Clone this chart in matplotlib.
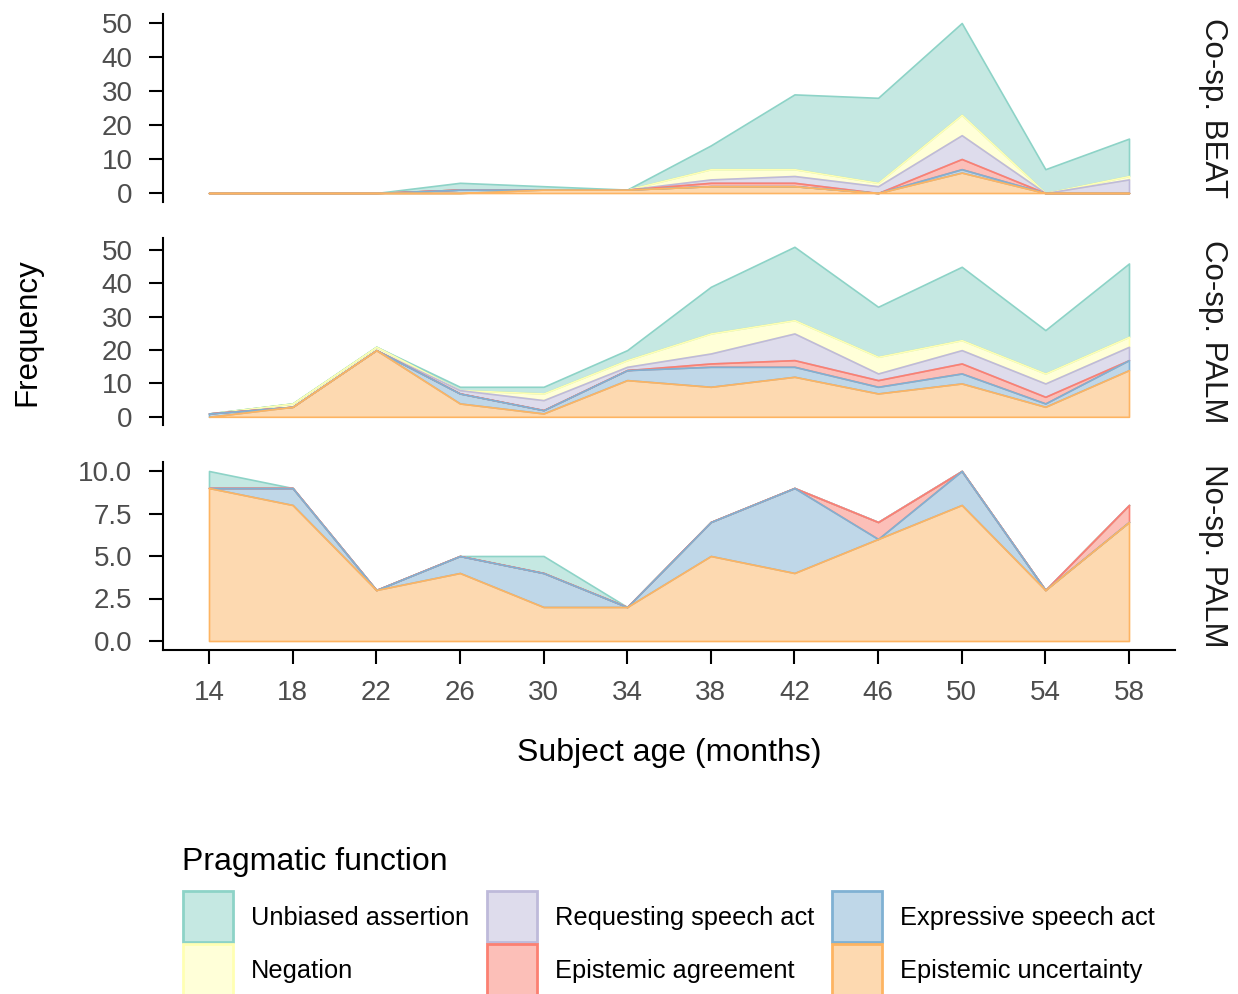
import matplotlib
matplotlib.use("Agg")
import matplotlib.pyplot as plt
from matplotlib.patches import Rectangle
from matplotlib.colors import to_rgba
import numpy as np

plt.rcParams['font.family'] = ['Liberation Sans', 'DejaVu Sans']

# ---------------- data ----------------
ages = [14, 18, 22, 26, 30, 34, 38, 42, 46, 50, 54, 58]

functions = ["Unbiased assertion", "Negation", "Requesting speech act",
             "Epistemic agreement", "Expressive speech act", "Epistemic uncertainty"]
colors = ["#8DD3C7", "#FFFFB3", "#BEBADA", "#FB8072", "#80B1D3", "#FDB462"]
panels = ["Co-sp. BEAT", "Co-sp. PALM", "No-sp. PALM"]

# Co-sp. BEAT
beat_unbiased    = [0, 0, 0, 2, 1, 0, 7, 22, 25, 27, 7, 11]
beat_negation    = [0, 0, 0, 0, 0, 0, 3, 2, 1, 6, 0, 1]
beat_requesting  = [0, 0, 0, 0, 0, 0, 1, 2, 2, 7, 0, 4]
beat_agreement   = [0, 0, 0, 0, 0, 0, 1, 1, 0, 3, 0, 0]
beat_expressive  = [0, 0, 0, 1, 0, 0, 0, 0, 0, 1, 0, 0]
beat_uncertainty = [0, 0, 0, 0, 1, 1, 2, 2, 0, 6, 0, 0]

# Co-sp. PALM
palm_unbiased    = [0, 0, 0, 1, 2, 3, 14, 22, 15, 22, 13, 22]
palm_negation    = [0, 1, 1, 0, 2, 2, 6, 4, 5, 3, 3, 3]
palm_requesting  = [0, 0, 0, 1, 3, 1, 3, 8, 2, 4, 4, 4]
palm_agreement   = [0, 0, 0, 0, 0, 0, 1, 2, 2, 3, 2, 0]
palm_expressive  = [1, 0, 0, 3, 1, 3, 6, 3, 2, 3, 1, 3]
palm_uncertainty = [0, 3, 20, 4, 1, 11, 9, 12, 7, 10, 3, 14]

# No-sp. PALM
nosp_unbiased    = [1, 0, 0, 0, 1, 0, 0, 0, 0, 0, 0, 0]
nosp_negation    = [0, 0, 0, 0, 0, 0, 0, 0, 0, 0, 0, 0]
nosp_requesting  = [0, 0, 0, 0, 0, 0, 0, 0, 0, 0, 0, 0]
nosp_agreement   = [0, 0, 0, 0, 0, 0, 0, 0, 1, 0, 0, 1]
nosp_expressive  = [0, 1, 0, 1, 2, 0, 2, 5, 0, 2, 0, 0]
nosp_uncertainty = [9, 8, 3, 4, 2, 2, 5, 4, 6, 8, 3, 7]

panel_data = [
    [beat_unbiased, beat_negation, beat_requesting, beat_agreement, beat_expressive, beat_uncertainty],
    [palm_unbiased, palm_negation, palm_requesting, palm_agreement, palm_expressive, palm_uncertainty],
    [nosp_unbiased, nosp_negation, nosp_requesting, nosp_agreement, nosp_expressive, nosp_uncertainty],
]

x_ticks = [14, 18, 22, 26, 30, 34, 38, 42, 46, 50, 54, 58]
y_ticks = [[0, 10, 20, 30, 40, 50], [0, 10, 20, 30, 40, 50], [0.0, 2.5, 5.0, 7.5, 10.0]]
y_fmt = ["{:.0f}", "{:.0f}", "{:.1f}"]

# ---------------- figure ----------------
W, H = 1238, 994
fig = plt.figure(figsize=(W / 100, H / 100), dpi=100)
fig.patch.set_facecolor("white")

left_px, right_px = 163, 1175
panel_tops = [14.5, 238.3, 462.5]
panel_h = 187

tick_col = "#4D4D4D"
x = np.array(ages, dtype=float)
xmin, xmax = min(ages), max(ages)
xpad = 0.05 * (xmax - xmin)

for i, (name, series) in enumerate(zip(panels, panel_data)):
    top = panel_tops[i]
    ax = fig.add_axes([left_px / W, 1 - (top + panel_h) / H,
                       (right_px - left_px) / W, panel_h / H])
    arr = np.array(series, dtype=float)        # order: top of stack first
    rev = arr[::-1]
    cum = np.cumsum(rev, axis=0)
    lowers = np.vstack([np.zeros(len(ages)), cum[:-1]])[::-1]
    uppers = cum[::-1]
    for j in range(len(functions)):
        ax.fill_between(x, lowers[j], uppers[j],
                        facecolor=to_rgba(colors[j], 0.5),
                        edgecolor=colors[j], linewidth=1.2, zorder=2 + j)
    ymax = uppers[0].max()
    ax.set_ylim(-0.05 * ymax, ymax * 1.05)
    ax.set_xlim(xmin - xpad, xmax + xpad)
    ax.set_yticks(y_ticks[i])
    ax.set_yticklabels([y_fmt[i].format(v) for v in y_ticks[i]])
    for s in ["top", "right"]:
        ax.spines[s].set_visible(False)
    ax.spines["left"].set_linewidth(1.5)
    ax.spines["bottom"].set_linewidth(1.5)
    ax.tick_params(axis="y", length=10, width=1.5, pad=12, labelsize=20,
                   labelcolor=tick_col, color="black")
    if i < 2:
        ax.spines["bottom"].set_visible(False)
        ax.tick_params(axis="x", bottom=False, labelbottom=False)
    else:
        ax.set_xticks(x_ticks)
        ax.set_xticklabels([str(t) for t in x_ticks])
        ax.tick_params(axis="x", length=10, width=1.5, pad=12, labelsize=20,
                       labelcolor=tick_col, color="black")
    ax.set_facecolor("none")
    fig.text(1213 / W, 1 - (top + panel_h / 2) / H, name, rotation=-90,
             ha="center", va="center", fontsize=22.5, color="#1A1A1A")

# axis titles
fig.text(669 / W, 1 - 753 / H, "Subject age (months)", ha="center", va="center",
         fontsize=23, color="black")
fig.text(27 / W, 1 - 332 / H, "Frequency", rotation=90, ha="center", va="center",
         fontsize=22.5, color="black")

# ---------------- legend ----------------
fig.text(182 / W, 1 - 862 / H, "Pragmatic function", ha="left", va="center",
         fontsize=23, color="black")
col_x = [183, 487, 832]
row_top = [891, 944]
key_w, key_h = 50, 51
for k in range(len(functions)):
    c = k // 2
    r = k % 2
    x0 = col_x[c]
    y0 = row_top[r]
    rect = Rectangle((x0 / W, 1 - (y0 + key_h) / H), key_w / W, key_h / H,
                     transform=fig.transFigure, facecolor=to_rgba(colors[k], 0.5),
                     edgecolor=colors[k], linewidth=2.0)
    fig.add_artist(rect)
    fig.text((x0 + key_w + 18) / W, 1 - (y0 + key_h / 2 + 1.5) / H, functions[k],
             ha="left", va="center", fontsize=18.3, color="black")

fig.savefig("out.png", dpi=100, facecolor="white")
